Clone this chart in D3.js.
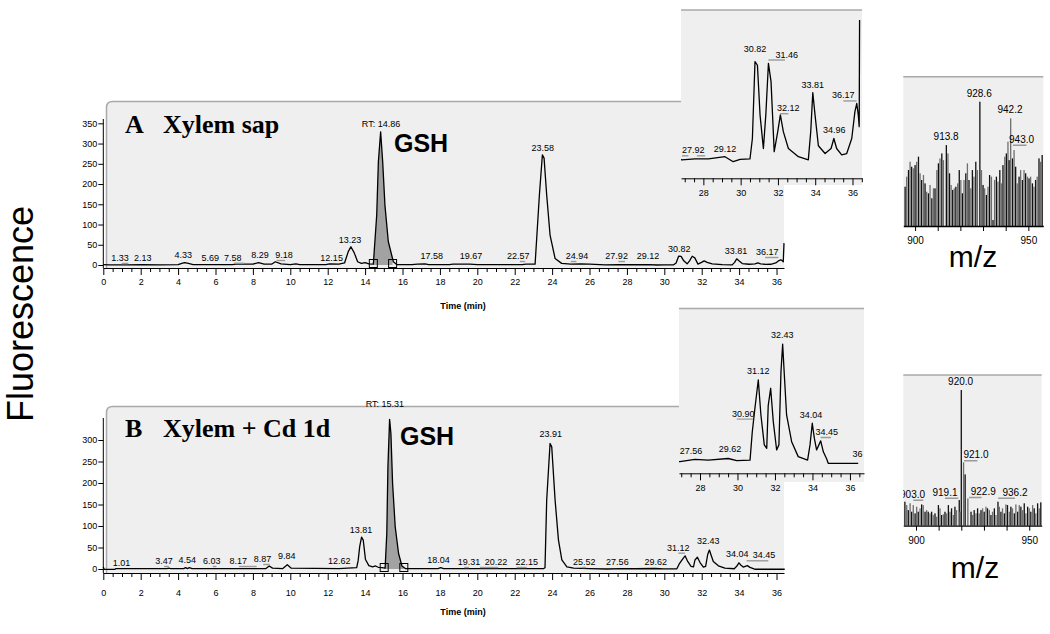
<!DOCTYPE html>
<html>
<head>
<meta charset="utf-8">
<script src="https://cdn.jsdelivr.net/npm/d3@7/dist/d3.min.js"></script>
<style>
  body { margin: 0; background: #fff; }
</style>
</head>
<body>
<div id="chart"></div>
<script>
// ---- data ----
const timeTicks = [0, 2, 4, 6, 8, 10, 12, 14, 16, 18, 20, 22, 24, 26, 28, 30, 32, 34, 36];
const insetTicks = [28, 30, 32, 34, 36];
const yTicksA = [0, 50, 100, 150, 200, 250, 300, 350];
const yTicksB = [0, 50, 100, 150, 200, 250, 300];
const mzTicks = [900, 910, 920, 930, 940, 950];
const mzTickLabels = [900, 950];

// chromatogram A (time min, fluorescence)
const chromA = [
  [0, 1], [0.3, 0.5], [1.2, 0.5], [2.1, 1], [3.0, 0.5], [4.0, 1], [4.2, 4], [4.35, 6], [4.55, 4], [4.8, 1],
  [5.7, 1], [6.9, 1], [7.1, 2], [7.6, 2], [8.0, 2], [8.3, 6], [8.6, 2], [9.0, 2], [9.2, 8], [9.5, 3],
  [10.0, 1], [10.3, 3], [10.5, 1], [11.9, 1], [12.1, 3], [12.6, 2], [12.9, 5], [13.1, 33], [13.24, 45],
  [13.42, 30], [13.6, 8], [13.8, 4], [14.0, 6], [14.2, 3], [14.44, 2], [14.62, 123], [14.71, 255],
  [14.83, 329], [14.94, 255], [15.06, 148], [15.24, 58], [15.51, 8], [15.69, 1], [16.5, 1], [16.8, 2],
  [17.2, 3], [17.4, 1], [18.5, 1], [18.7, 2], [19.6, 2], [20, 1], [22.4, 1], [22.6, 2], [23.09, 2],
  [23.32, 173], [23.48, 272], [23.57, 264], [23.71, 173], [23.89, 74], [24.16, 16], [24.51, 4], [25, 2],
  [25.5, 3], [26, 2], [26.84, 0.4], [27.55, 0.6], [28.27, 0.6], [29.16, 1.1], [29.6, 0], [29.97, 0.5],
  [30.5, 0.6], [30.63, 5.1], [30.77, 22], [30.9, 21.2], [31.04, 10.3], [31.22, 2.9], [31.35, 10.3],
  [31.49, 21.6], [31.63, 17.6], [31.8, 2.2], [31.99, 6.6], [32.13, 10.3], [32.29, 6.6], [32.56, 2.9],
  [33.1, 1.1], [33.63, 0.4], [33.76, 6.6], [33.87, 15.2], [33.99, 10.3], [34.17, 3.5], [34.53, 1.8],
  [34.85, 2.9], [35.0, 5.1], [35.15, 2.9], [35.42, 1.5], [35.69, 1.8], [35.96, 5.1], [36.13, 11],
  [36.23, 12.8], [36.31, 10.3], [36.36, 7.7], [36.4, 54]
];

// chromatogram B
const chromB = [
  [0, 5], [0.05, -1], [0.62, -1], [0.66, 1], [2, 1], [3.4, 1], [3.5, 2], [3.6, 1], [4.3, 1], [4.4, 3],
  [4.5, 1], [4.6, 3], [4.75, 1], [6.0, 1], [8.2, 1], [8.7, 1], [8.87, 7], [9.05, 2], [9.6, 1], [9.84, 10],
  [10.05, 2], [12.6, 1], [13.55, 3], [13.63, 20], [13.71, 52], [13.81, 74], [13.9, 67], [14.02, 22],
  [14.2, 8], [14.4, 5], [14.56, 7], [14.7, 4], [14.9, 3], [15.07, 2], [15.16, 83], [15.22, 238],
  [15.31, 348], [15.38, 315], [15.47, 199], [15.61, 98], [15.79, 36], [15.97, 7], [16.15, 1], [17.9, 1],
  [18.04, 3], [18.2, 1], [23.55, 1], [23.62, 3], [23.71, 160], [23.89, 292], [23.98, 284], [24.16, 160],
  [24.34, 67], [24.52, 21], [24.79, 5], [25.15, 2], [26.0, 1], [26.93, 0], [27.73, 0.9], [28.44, 0.6],
  [29.51, 1.2], [29.96, 0.4], [30.67, 0.6], [30.79, 11.2], [30.93, 20], [31.11, 30.6], [31.25, 17.5],
  [31.43, 6.3], [31.56, 5], [31.64, 21], [31.77, 27.5], [31.91, 15], [32.09, 4.4], [32.21, 6.3],
  [32.32, 33.7], [32.41, 44], [32.49, 33.7], [32.62, 17.5], [32.89, 7.5], [33.24, 1.9], [33.74, 0.6],
  [33.87, 6.3], [33.99, 14.4], [34.1, 8.8], [34.22, 4.4], [34.44, 7.8], [34.58, 3.7], [34.76, 1],
  [34.84, -0.6], [36.44, -0.6]
];

// peak labels: [text, time position, level]
const labelsA = [["1.33", 0.89, 9.9], ["2.13", 2.11, 9.9], ["4.33", 4.28, 17.3], ["5.69", 5.72, 10.6],
  ["7.58", 6.92, 10.6], ["8.29", 8.38, 17.3], ["9.18", 9.66, 17.3], ["12.15", 12.21, 10.6],
  ["13.23", 13.19, 55], ["17.58", 17.56, 14.8], ["19.67", 19.66, 14.8], ["22.57", 22.19, 14.8],
  ["23.58", 23.5, 281.6], ["24.94", 25.33, 14.8], ["27.92", 27.45, 14.8], ["29.12", 29.13, 14.8],
  ["30.82", 30.8, 32.9], ["33.81", 33.83, 27.2], ["36.17", 35.51, 24.7], ["RT: 14.86", 14.85, 340]];
const underA = [[0.98, 1.34, 9.9], [7.0, 7.54, 10.6], [9.27, 9.72, 17.3], [22.28, 22.56, 14.8],
  [25.0, 25.3, 14.8], [27.54, 27.9, 14.8], [35.39, 36.1, 24.7]];

const labelsB = [["1.01", 0.98, 7.7], ["3.47", 3.25, 11.6], ["4.54", 4.49, 14.7], ["6.03", 5.8, 11.6],
  ["8.17", 7.22, 11.6], ["8.87", 8.52, 16.3], ["9.84", 9.81, 22.6], ["12.62", 12.62, 10.9],
  ["13.81", 13.78, 84.4], ["18.04", 17.92, 14.7], ["19.31", 19.56, 9.3], ["20.22", 21.0, 9.3],
  ["22.15", 22.64, 9.3], ["23.91", 23.93, 307.7], ["25.52", 25.72, 9.3], ["27.56", 27.49, 9.3],
  ["29.62", 29.54, 9.3], ["31.12", 30.75, 42.6], ["32.43", 32.35, 58.1], ["34.04", 33.9, 27.2],
  ["34.45", 35.33, 24.9], ["RT: 15.31", 15.06, 376]];
const underB = [[3.25, 3.5, 11.6], [5.85, 6.05, 11.6], [7.26, 8.2, 11.6], [8.55, 8.9, 16.3],
  [19.3, 19.55, 9.3], [20.14, 21.12, 9.3], [22.1, 22.64, 9.3], [25.6, 25.8, 9.3], [30.75, 31.1, 42.6],
  [34.4, 35.56, 24.9]];

const insetLabelsA = [["27.92", 27.46, 1.85], ["29.12", 29.16, 2.2], ["30.82", 30.77, 24.2],
  ["31.46", 32.47, 22.9], ["32.12", 32.56, 11.1], ["33.81", 33.87, 16.3], ["34.96", 35.02, 6.2],
  ["36.17", 35.51, 13.9]];
const insetUnderA = [[26.85, 27.2, 1.85], [27.65, 28.1, 1.85], [31.49, 32.38, 22.9],
  [32.11, 32.56, 11.1], [35.51, 36.22, 13.9]];
const insetLabelsB = [["27.56", 27.52, 2.9], ["29.62", 29.6, 3.5], ["30.90", 30.31, 16.9],
  ["31.12", 31.11, 32.8], ["32.43", 32.39, 46.2], ["34.04", 33.92, 16.3], ["34.45", 34.76, 10],
  ["36", 36.4, 1.9]];
const insetUnderB = [[29.96, 30.84, 16.9], [34.44, 34.99, 10]];

// mass spectra (m/z, relative intensity %)
const mzA = [895.6, 896.3, 897.1, 897.8, 898.5, 899.3, 900.0, 900.7, 901.5, 902.2, 902.9, 903.7, 904.4,
  905.1, 905.9, 906.6, 907.4, 908.1, 908.8, 909.6, 910.3, 911.0, 911.8, 912.5, 913.8, 914.5, 915.2,
  915.9, 916.6, 917.3, 918.0, 918.8, 919.5, 920.2, 920.9, 921.6, 922.4, 923.1, 923.8, 924.6, 925.3,
  926.0, 926.8, 927.5, 928.6, 929.3, 930.0, 930.7, 931.5, 932.2, 932.9, 933.7, 934.4, 935.1, 935.9,
  936.6, 937.4, 938.1, 938.8, 939.6, 940.3, 941.0, 941.5, 942.2, 943.0, 943.7, 944.4, 945.1, 945.9,
  946.6, 947.4, 948.1, 948.8, 949.6, 950.3, 951.0, 951.8, 952.5, 953.2, 953.9, 954.7, 955.4, 956.1];
const intA = [31.6, 39.7, 45, 51.7, 47.7, 46.4, 49, 51.7, 55.8, 42.4, 37, 41, 34.3, 27.6, 26.3, 33,
  22.3, 30.3, 30.3, 45, 50.4, 54.4, 58.4, 53, 65.1, 58.4, 42.4, 33, 29, 30.3, 31.6, 34.3, 45, 37, 26.3,
  37, 42.4, 50.4, 37, 30.3, 45, 39.7, 51.7, 45, 100, 45, 33, 30.3, 25, 31.6, 41, 39.7, 4.8, 37, 39.7,
  35.7, 45, 34.3, 49, 55.8, 58.4, 67.8, 53, 86.6, 54.4, 61.1, 47.7, 34.3, 39.7, 45, 37, 45, 42.4, 39.7,
  38.3, 39.7, 34.3, 31.6, 37, 39.7, 54.4, 51.7, 57.1];
const mzB = [895.1, 895.9, 896.6, 897.4, 898.1, 898.8, 899.6, 900.3, 901.0, 901.8, 902.5, 903.2, 904.0,
  904.7, 905.4, 906.2, 906.9, 907.6, 908.4, 909.1, 909.9, 910.6, 911.3, 912.1, 912.8, 913.5, 914.3,
  915.0, 915.7, 916.5, 917.2, 917.9, 919.1, 919.4, 920.0, 921.0, 921.7, 922.9, 924.3, 925.0, 925.7,
  926.5, 927.2, 927.9, 928.7, 929.4, 930.1, 930.9, 931.6, 932.4, 933.1, 933.8, 934.6, 935.3, 936.2,
  936.8, 937.5, 938.2, 939.0, 939.7, 940.4, 941.2, 941.9, 942.6, 943.4, 944.1, 944.9, 945.6, 946.3,
  947.1, 947.8, 948.5, 949.3, 950.0, 950.7, 951.5, 952.2, 952.9, 953.7, 954.4, 955.1];
const intB = [17.7, 15.2, 11.5, 16.5, 10.3, 15.2, 9.1, 14, 10.3, 12.8, 15.7, 15.2, 10.3, 11.5, 10.3,
  9.1, 10.3, 7.9, 9.1, 6.6, 15.2, 12.8, 7.9, 8.4, 10.3, 9.1, 15.2, 10.3, 12.8, 7.9, 14, 11.5, 18.9,
  10.3, 100, 46.7, 37.8, 20.1, 10.3, 7.9, 11.5, 9.1, 12.8, 9.1, 11.5, 12.8, 10.3, 14, 12.8, 11.5, 7.9,
  10.3, 12.8, 7.9, 17.7, 14, 10.3, 12.8, 9.1, 15.7, 15.2, 10.3, 14, 12.8, 9.1, 15.7, 10.3, 15.2, 14,
  11.5, 16.5, 9.1, 14, 12.8, 10.3, 15.2, 12.8, 9.1, 16.5, 12.8, 17.2];
const msLabelsA = [["928.6", 928.3, 104], ["913.8", 913.7, 69.2], ["942.2", 941.9, 90.7], ["943.0", 947.0, 67]];
const msUnderA = [[943.2, 949.2, 67]];
const msLabelsB = [["920.0", 919.7, 103.7], ["921.0", 926.5, 49.7], ["919.1", 912.8, 22.1],
  ["922.9", 929.7, 22.6], ["936.2", 943.7, 22.1], ["903.0", 898.5, 20.6]];
const msUnderB = [[921.2, 927.1, 49.7], [912.8, 918.7, 22.1], [923.4, 929.0, 22.6],
  [936.3, 943.7, 22.1], [898.8, 903.2, 20.6]];

// ---- drawing ----
const BG = "#efefef";
const EDGE = "#a9a9a9";
const SANS = "'Liberation Sans', Arial, sans-serif";
const SERIF = "'Liberation Serif', 'Times New Roman', serif";
const width = 1050, height = 634;

const svg = d3.select("#chart").append("svg")
  .attr("width", width).attr("height", height)
  .style("font-family", SANS);
const defs = svg.append("defs");
let clipId = 0;
function addClip(x, y, w, h) {
  const id = "clip" + (clipId++);
  defs.append("clipPath").attr("id", id)
    .append("rect").attr("x", x).attr("y", y).attr("width", w).attr("height", h);
  return `url(#${id})`;
}

function styleAxis(sel, fs) {
  sel.selectAll("path, line").attr("stroke", "#000").attr("stroke-width", 1);
  sel.selectAll("text").attr("font-size", fs).attr("fill", "#000").style("font-family", SANS);
}

function drawLabels(g, x, y, labels, unders, fs) {
  g.append("g").selectAll("line").data(unders).enter().append("line")
    .attr("x1", (d) => x(d[0])).attr("x2", (d) => x(d[1]))
    .attr("y1", (d) => y(d[2]) + 2.5).attr("y2", (d) => y(d[2]) + 2.5)
    .attr("stroke", "#9a9a9a").attr("stroke-width", 1.4);
  g.append("g").selectAll("text").data(labels).enter().append("text")
    .attr("x", (d) => x(d[1])).attr("y", (d) => y(d[2]))
    .attr("text-anchor", "middle").attr("font-size", fs).text((d) => d[0]);
}

function drawChrom(c) {
  const g = svg.append("g");
  const x = d3.scaleLinear().domain([0, 36.4]).range([103.3, 784]);
  const y = d3.scaleLinear().domain([0, 100]).range([c.yBase, c.yBase - 100 * c.perUnit]);
  const [bx0, by0, bx1, by1] = c.box;

  g.append("path")
    .attr("d", `M${bx0},${by1}V${by0 + 6}Q${bx0},${by0} ${bx0 + 6},${by0}H${bx1}V${by1}Z`)
    .attr("fill", BG);
  g.append("path")
    .attr("d", `M${bx0},${by1}V${by0 + 6}Q${bx0},${by0} ${bx0 + 6},${by0}H${bx1}`)
    .attr("fill", "none").attr("stroke", EDGE).attr("stroke-width", 1.5);

  // shaded GSH peak
  const area = d3.area().x((d) => x(d[0])).y0(y(0)).y1((d) => y(d[1]));
  g.append("path").datum(c.trace).attr("d", area)
    .attr("fill", "#a2a2a2")
    .attr("clip-path", addClip(x(c.shade[0]), 0, x(c.shade[1]) - x(c.shade[0]), c.yBase));

  const line = d3.line().x((d) => x(d[0])).y((d) => y(d[1]));
  g.append("path").datum(c.trace).attr("d", line)
    .attr("fill", "none").attr("stroke", "#000").attr("stroke-width", 1.3)
    .attr("stroke-linejoin", "round");

  g.append("g").selectAll("rect").data(c.shade).enter().append("rect")
    .attr("x", (d) => x(d) - 4).attr("y", y(0) - 5.5).attr("width", 8).attr("height", 8)
    .attr("fill", "none").attr("stroke", "#000").attr("stroke-width", 1);

  drawLabels(g, x, y, c.labels, c.unders, 9);

  // axes
  const minor = d3.range(0, 36.41, 0.5).filter((t) => t % 2 !== 0);
  const xa = g.append("g").attr("transform", `translate(0,${c.axisY})`)
    .call(d3.axisBottom(x).tickValues(timeTicks).tickSize(7).tickSizeOuter(0).tickPadding(c.tickPad));
  styleAxis(xa, 9);
  const xm = g.append("g").attr("transform", `translate(0,${c.axisY})`)
    .call(d3.axisBottom(x).tickValues(minor).tickSize(4).tickFormat(""));
  xm.select(".domain").remove();
  styleAxis(xm, 9);

  const ya = g.append("g").attr("transform", "translate(103.3,0)")
    .call(d3.axisLeft(y).tickValues(c.yTicks).tickSize(5).tickPadding(1));
  ya.select(".domain").remove();
  styleAxis(ya, 9);
  g.append("line").attr("x1", 103.3).attr("x2", 103.3).attr("y1", c.axisY).attr("y2", c.yAxisTop)
    .attr("stroke", "#000");

  g.append("text").attr("x", 463).attr("y", c.timeY).attr("text-anchor", "middle")
    .attr("font-size", 9).attr("font-weight", "bold").text("Time (min)");

  // panel titles
  g.append("text").attr("x", 125).attr("y", c.titleY).style("font-family", SERIF)
    .attr("font-weight", "bold").attr("font-size", 26).text(c.letter);
  g.append("text").attr("x", 163).attr("y", c.titleY).style("font-family", SERIF)
    .attr("font-weight", "bold").attr("font-size", 26).text(c.title);
  g.append("text").attr("x", c.gshX).attr("y", c.gshY)
    .attr("font-weight", "bold").attr("font-size", 25).text("GSH");
}

function drawInset(c) {
  const g = svg.append("g");
  const [bx0, by0, bx1, by1] = c.box;
  const x = d3.scaleLinear().domain(c.dom).range([bx0, bx1]);
  const y = d3.scaleLinear().domain([0, 10]).range([c.yBase, c.yBase - 10 * c.perUnit]);
  g.append("rect").attr("x", bx0).attr("y", by0).attr("width", bx1 - bx0).attr("height", by1 - by0)
    .attr("fill", BG);
  g.append("line").attr("x1", bx0).attr("x2", bx1).attr("y1", by0).attr("y2", by0)
    .attr("stroke", EDGE).attr("stroke-width", 1.5);

  const line = d3.line().x((d) => x(d[0])).y((d) => y(d[1]));
  g.append("path").datum(c.trace).attr("d", line)
    .attr("fill", "none").attr("stroke", "#000").attr("stroke-width", 1.3)
    .attr("stroke-linejoin", "round")
    .attr("clip-path", addClip(bx0, c.clipTop, bx1 - bx0, c.axisY - c.clipTop));

  const lg = g.append("g").attr("clip-path", addClip(bx0, by0, bx1 - bx0, by1 - by0));
  drawLabels(lg, x, y, c.labels, c.unders, 9);

  const minor = d3.range(27, 36.6, 0.5).filter((t) => t % 2 !== 0);
  const xa = g.append("g").attr("transform", `translate(0,${c.axisY})`)
    .call(d3.axisBottom(x).tickValues(insetTicks).tickSize(7).tickSizeOuter(0).tickPadding(c.tickPad));
  styleAxis(xa, 9);
  const xm = g.append("g").attr("transform", `translate(0,${c.axisY})`)
    .call(d3.axisBottom(x).tickValues(minor).tickSize(4).tickFormat(""));
  xm.select(".domain").remove();
  styleAxis(xm, 9);
}

function drawSpectrum(c) {
  const g = svg.append("g");
  const [bx0, by0, bx1, by1] = c.box;
  const x = d3.scaleLinear().domain(c.dom).range([bx0, bx1]);
  const y = d3.scaleLinear().domain([0, 100]).range([by1, c.top100]);
  g.append("rect").attr("x", bx0).attr("y", by0).attr("width", bx1 - bx0).attr("height", by1 - by0)
    .attr("fill", BG);
  g.append("line").attr("x1", bx0).attr("x2", bx1).attr("y1", by0).attr("y2", by0)
    .attr("stroke", EDGE).attr("stroke-width", 1.5);

  g.append("g").selectAll("rect").data(c.mz).enter().append("rect")
    .attr("x", (d) => x(d) - 0.65).attr("width", 1.3)
    .attr("y", (d, i) => y(c.int[i])).attr("height", (d, i) => y(0) - y(c.int[i]))
    .attr("fill", (d, i) => (i % 2 ? "#6e6e6e" : "#111"));

  const lg = g.append("g").attr("clip-path", addClip(bx0, by0, bx1 - bx0, by1 - by0 + 2));
  drawLabels(lg, x, y, c.labels, c.unders, 10);

  const xa = g.append("g").attr("transform", `translate(0,${by1})`)
    .call(d3.axisBottom(x).tickValues(mzTicks).tickSize(5).tickSizeOuter(0)
      .tickFormat((d) => (mzTickLabels.includes(d) ? d : "")).tickPadding(6));
  styleAxis(xa, 10);
  xa.select(".domain").attr("stroke-width", 1.3);

  g.append("text").attr("x", c.mzX).attr("y", c.mzY).attr("text-anchor", "middle")
    .attr("font-size", 30).text("m/z");
}

drawChrom({
  trace: chromA, labels: labelsA, unders: underA, yBase: 265, perUnit: 0.4048,
  yTicks: yTicksA, yAxisTop: 119, axisY: 268, tickPad: 4, box: [106.5, 101.5, 784, 268],
  shade: [14.44, 15.47], timeY: 309, letter: "A", title: "Xylem sap", titleY: 133,
  gshX: 394, gshY: 152
});
drawChrom({
  trace: chromB, labels: labelsB, unders: underB, yBase: 569, perUnit: 0.43,
  yTicks: yTicksB, yAxisTop: 418, axisY: 573, tickPad: 10, box: [106.5, 406.5, 784, 573],
  shade: [15.02, 16.07], timeY: 615, letter: "B", title: "Xylem + Cd 1d", titleY: 437,
  gshX: 400, gshY: 445
});
drawInset({
  trace: chromA, labels: insetLabelsA, unders: insetUnderA, box: [681, 10, 862, 185],
  dom: [26.8, 36.51], yBase: 161.7, perUnit: 4.55, clipTop: 20, axisY: 178.3, tickPad: 4
});
drawInset({
  trace: chromB, labels: insetLabelsB, unders: insetUnderB, box: [679, 308.5, 864, 482],
  dom: [26.88, 36.75], yBase: 461.7, perUnit: 2.67, clipTop: 310, axisY: 473.3, tickPad: 4
});
drawSpectrum({
  mz: mzA, int: intA, labels: msLabelsA, unders: msUnderA, box: [903.3, 76.7, 1043.3, 226],
  dom: [894.8, 956.6], top100: 101.7, mzX: 973, mzY: 267
});
drawSpectrum({
  mz: mzB, int: intB, labels: msLabelsB, unders: msUnderB, box: [903.3, 375, 1041.7, 525.7],
  dom: [894.4, 955.5], top100: 390, mzX: 975, mzY: 578
});

svg.append("text")
  .attr("transform", "translate(33,314) rotate(-90)")
  .attr("text-anchor", "middle").attr("font-size", 36).text("Fluorescence");
</script>
</body>
</html>
